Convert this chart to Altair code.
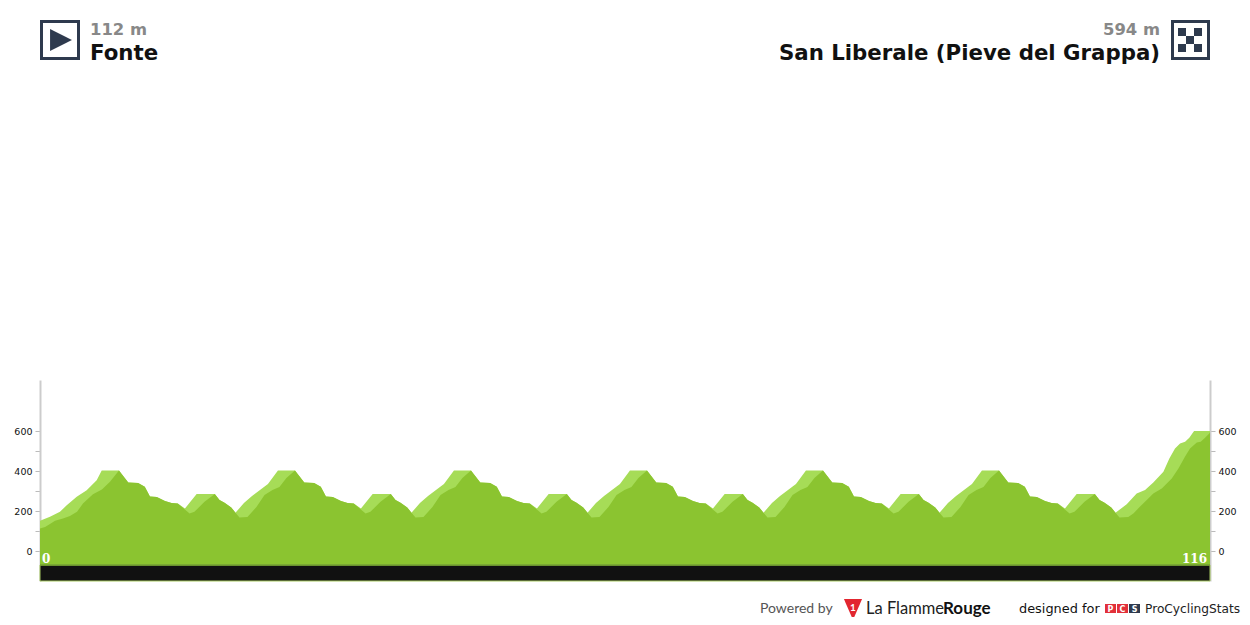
import altair as alt
import pandas as pd

START_NAME = "Fonte"
START_ALT = "112 m"
END_NAME = "San Liberale (Pieve del Grappa)"
END_ALT = "594 m"
KM_START = "0"
KM_END = "116"
Y_TICKS = [0, 100, 200, 300, 400, 500, 600]

dark_km = [0, 0.50, 0.99, 1.49, 2.28, 2.97, 3.67, 4.26, 5.25, 6.14, 6.94,
    7.83,8.75,9.73,10.39,10.90,11.58,12.39,13.04,13.66,14.83,15.31,16.31,17.33,17.80,18.30,18.96,19.38,19.78,20.57,21.46,22.26,23.05,23.74,24.43,
    25.28,26.20,27.18,27.84,28.35,29.03,29.84,30.49,31.11,32.28,32.76,33.76,34.78,35.25,35.75,36.41,36.83,37.23,38.02,38.91,39.71,40.50,41.19,41.88,
    42.73,43.65,44.63,45.29,45.80,46.48,47.29,47.94,48.56,49.73,50.21,51.21,52.23,52.70,53.20,53.86,54.28,54.68,55.47,56.36,57.16,57.95,58.64,59.33,
    60.18,61.10,62.08,62.74,63.25,63.93,64.74,65.39,66.01,67.18,67.66,68.66,69.68,70.15,70.65,71.31,71.73,72.13,72.92,73.81,74.61,75.40,76.09,76.78,
    77.63,78.55,79.53,80.19,80.70,81.38,82.19,82.84,83.46,84.63,85.11,86.11,87.13,87.60,88.10,88.76,89.18,89.58,90.37,91.26,92.06,92.85,93.54,94.23,
    95.08,96.00,96.98,97.64,98.15,98.83,99.64,100.29,100.91,102.08,102.56,103.56,104.58,105.05,105.55,106.21,106.63,107.03,
    107.90,108.40,109.07,109.73,110.38,111.22,112.21,112.87,113.53,114.02,114.69,115.08,115.51,115.93,116]
dark_m = [112, 120, 135, 151, 163, 175, 196, 238, 284, 307, 346,
    402,342,340,321,272,270,250,240,237,188,196,246,285,255,241,218,191,168,170,220,280,305,320,365,
    402,342,340,321,272,270,250,240,237,188,196,246,285,255,241,218,191,168,170,220,280,305,320,365,
    402,342,340,321,272,270,250,240,237,188,196,246,285,255,241,218,191,168,170,220,280,305,320,365,
    402,342,340,321,272,270,250,240,237,188,196,246,285,255,241,218,191,168,170,220,280,305,320,365,
    402,342,340,321,272,270,250,240,237,188,196,246,285,255,241,218,191,168,170,220,280,305,320,365,
    402,342,340,321,272,270,250,240,237,188,196,246,285,255,241,218,191,168,
    170,188,222,255,288,313,363,413,472,513,543,546,566,588,594]

light_km = [0, 0.99, 1.98, 2.65, 3.64, 4.63, 5.62, 6.12,
    7.83,8.75,9.73,10.39,10.90,11.58,12.39,13.04,13.66,14.37,15.53,17.33,17.80,18.30,18.96,19.38,20.22,21.02,21.81,22.60,23.59,
    25.28,26.20,27.18,27.84,28.35,29.03,29.84,30.49,31.11,31.82,32.98,34.78,35.25,35.75,36.41,36.83,37.67,38.47,39.26,40.05,41.04,
    42.73,43.65,44.63,45.29,45.80,46.48,47.29,47.94,48.56,49.27,50.43,52.23,52.70,53.20,53.86,54.28,55.12,55.92,56.71,57.50,58.49,
    60.18,61.10,62.08,62.74,63.25,63.93,64.74,65.39,66.01,66.72,67.88,69.68,70.15,70.65,71.31,71.73,72.57,73.37,74.16,74.95,75.94,
    77.63,78.55,79.53,80.19,80.70,81.38,82.19,82.84,83.46,84.17,85.33,87.13,87.60,88.10,88.76,89.18,90.02,90.82,91.61,92.40,93.39,
    95.08,96.00,96.98,97.64,98.15,98.83,99.64,100.29,100.91,101.62,102.78,104.58,105.05,105.55,106.21,106.63,
    107.74,108.73,109.56,110.38,111.38,111.97,112.53,113.03,113.53,113.95,114.42,116]
light_m = [151, 171, 196, 229, 271, 304, 354, 402,
    402,342,340,321,272,270,250,240,237,212,285,285,255,241,218,191,240,275,305,335,402,
    402,342,340,321,272,270,250,240,237,212,285,285,255,241,218,191,240,275,305,335,402,
    402,342,340,321,272,270,250,240,237,212,285,285,255,241,218,191,240,275,305,335,402,
    402,342,340,321,272,270,250,240,237,212,285,285,255,241,218,191,240,275,305,335,402,
    402,342,340,321,272,270,250,240,237,212,285,285,255,241,218,191,240,275,305,335,402,
    402,342,340,321,272,270,250,240,237,212,285,285,255,241,218,191,
    234,288,305,343,396,463,513,538,546,566,600,600]

BAND_KM = [0]
BAND_KM_END = [116]
BAND_TOP = [-70]
BAND_BOTTOM = [-150]

DARK = "#8bc430"
LIGHT = "#a6dc57"
NAVY = "#2e3a4e"

x_scale = alt.Scale(domain=[0, 116], nice=False, zero=False)
x_enc = alt.X("km:Q", scale=x_scale, axis=None)
y_scale = alt.Scale(domain=[-150, 855], nice=False, zero=False)


def y_axis(orient):
    return alt.Axis(
        orient=orient, values=Y_TICKS, title=None, grid=False,
        labelExpr="datum.value % 200 == 0 ? datum.label : ''",
        labelFontSize=9.5, labelFont="DejaVu Sans", labelColor="#111111", labelPadding=3,
        labelOverlap=False, labelBound=False, labelFlush=False,
        tickColor="#bbbbbb", tickSize=5, tickWidth=1,
        domainColor="#cccccc", domainWidth=2,
    )


light_df = pd.DataFrame({"km": light_km, "m": light_m, "base": [-70] * len(light_km)})
dark_df = pd.DataFrame({"km": dark_km, "m": dark_m, "base": [-70] * len(dark_km)})
band_df = pd.DataFrame({"km": BAND_KM, "km2": BAND_KM_END, "top": BAND_TOP, "bottom": BAND_BOTTOM})

light_area = alt.Chart(light_df).mark_area(color=LIGHT, line=False, interpolate="linear").encode(
    x=x_enc, y=alt.Y("m:Q", scale=y_scale, axis=y_axis("left")), y2="base:Q")
dark_area = alt.Chart(dark_df).mark_area(color=DARK, line=False, interpolate="linear").encode(
    x=x_enc, y=alt.Y("m:Q", scale=y_scale, axis=y_axis("right")), y2="base:Q")
band = alt.Chart(band_df).mark_rect(fill="#111111", stroke="#a6c860", strokeWidth=1).encode(
    x=x_enc, x2="km2:Q", y=alt.Y("top:Q", scale=y_scale, axis=None), y2="bottom:Q")
band_top = alt.Chart(band_df).mark_rule(color="#6f9e2c", strokeWidth=1.5).encode(
    x=x_enc, x2="km2:Q", y=alt.Y("top:Q", scale=y_scale, axis=None))

one = pd.DataFrame({"a": [0]})
OX, OY = 40, 380


def txt(s, x, y, size, color, align="left", weight="normal", font="DejaVu Sans"):
    return alt.Chart(one).mark_text(
        align=align, baseline="alphabetic", fontSize=size, fontWeight=weight, font=font, color=color
    ).encode(x=alt.value(x - OX), y=alt.value(y - OY), text=alt.value(s))


def rect(x0, y0, x1, y1, fill, stroke=None, sw=0):
    kw = {"fill": fill}
    if stroke:
        kw.update(stroke=stroke, strokeWidth=sw)
    return alt.Chart(one).mark_rect(**kw).encode(
        x=alt.value(x0 - OX), x2=alt.value(x1 - OX), y=alt.value(y0 - OY), y2=alt.value(y1 - OY))


def poly(path, x, y, size, fill):
    return alt.Chart(one).mark_point(shape=path, filled=True, fill=fill, opacity=1, size=size, strokeWidth=0).encode(
        x=alt.value(x - OX), y=alt.value(y - OY))


layers = [
    light_area, dark_area, band, band_top,
    txt(KM_START, 42, 563, 12, "#ffffff", weight="bold", font="DejaVu Serif"),
    txt(KM_END, 1207, 563, 12, "#ffffff", align="right", weight="bold", font="DejaVu Serif"),
    txt(START_ALT, 90, 35, 16.4, "#888888", weight="bold"),
    txt(START_NAME, 90, 59.5, 21.3, "#111111", weight="bold"),
    txt(END_ALT, 1160, 35, 16.4, "#888888", align="right", weight="bold"),
    txt(END_NAME, 1160, 59.5, 21.3, "#111111", align="right", weight="bold"),
    rect(41.5, 21.5, 78.5, 58.5, "#ffffff", NAVY, 3),
    poly("M-1,-1L1,0L-1,1Z", 61, 40, 480, NAVY),
    rect(1172.5, 21.5, 1208.5, 58.5, "#ffffff", NAVY, 3),
]
for r, c in [(0, 0), (0, 2), (1, 1), (2, 0), (2, 2)]:
    layers.append(rect(1178 + 8 * c, 28 + 8 * r, 1186 + 8 * c, 36 + 8 * r, NAVY))

layers += [
    txt("Powered by", 760, 613, 14, "#555555", font="Lato"),
    poly("M-1,-1.1L1,-1.1L0,1.2Z", 853, 609, 330, "#e2262f"),
    txt("1", 853, 611, 10, "#ffffff", align="center", weight="bold", font="Lato"),
    txt("La Flamme", 866, 614, 16.5, "#222222", font="Lato"),
    txt("Rouge", 943, 614, 17, "#111111", weight="bold", font="Lato"),
    txt("designed for", 1019, 613, 12.9, "#111111"),
    rect(1105, 604, 1116, 613, "#e2303a"),
    rect(1117, 604, 1128, 613, "#e2303a"),
    rect(1129, 604, 1140, 613, NAVY),
    txt("P", 1110.5, 612, 8, "#ffffff", align="center", weight="bold"),
    txt("C", 1122.5, 612, 8, "#ffffff", align="center", weight="bold"),
    txt("S", 1134.5, 612, 8, "#ffffff", align="center", weight="bold"),
    txt("ProCyclingStats", 1145, 613, 12.2, "#222222"),
]

chart = alt.layer(*layers).resolve_axis(y="independent").properties(
    width=1170,
    height=201,
    autosize=alt.AutoSizeParams(type="none"),
    padding={"left": 32, "top": 372, "right": 32, "bottom": 36},
    background="#ffffff",
).configure_view(stroke=None)

chart.save("out.html", embed_options={"renderer": "svg", "actions": False})
